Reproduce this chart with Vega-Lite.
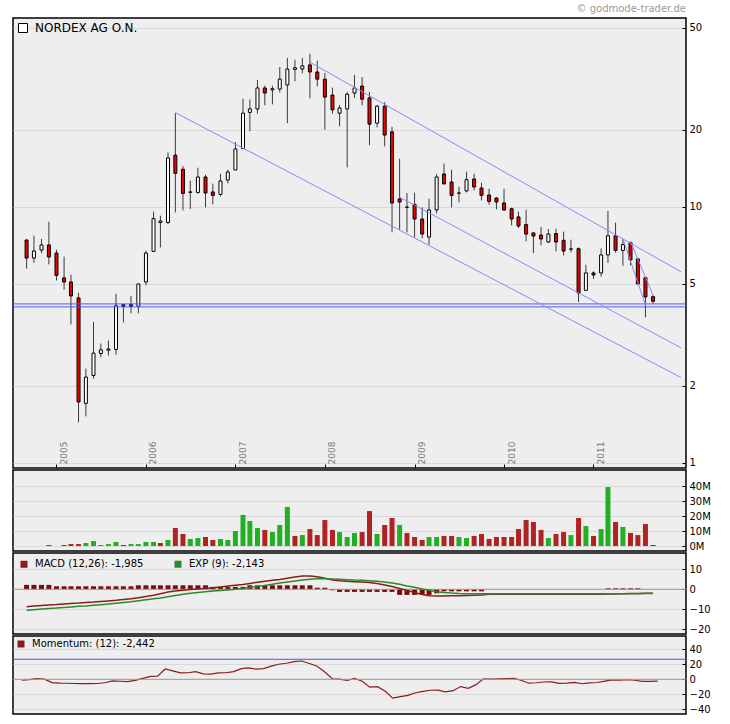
{
  "$schema": "https://vega.github.io/schema/vega-lite/v6.json",
  "padding": {"left": 11, "top": 3, "right": 0, "bottom": 0},
  "background": "white",
  "spacing": 2,
  "bounds": "flush",
  "config": {
    "font": "DejaVu Sans",
    "view": {"stroke": "black", "strokeWidth": 1.5, "fill": "#eeeeee"},
    "axis": {"labelFont": "DejaVu Sans", "title": null, "labelOverlap": false},
    "legend": {"labelFont": "DejaVu Sans"},
    "title": {"font": "DejaVu Sans"}
  },
  "resolve": {"scale": {"color": "independent", "stroke": "independent"}, "legend": {"color": "independent", "stroke": "independent"}},
  "datasets": {
    "candles": [
      {"d":"2004-09-01","o":7.41,"h":7.45,"l":5.73,"c":6.30,"m":-8.7,"s":-10.5,"hi":2.2,"mo":-1.3},
      {"d":"2004-10-01","o":6.30,"h":7.70,"l":6.03,"c":6.71,"m":-8.4,"s":-10.2,"hi":2.2,"mo":-0.5},
      {"d":"2004-11-01","o":6.77,"h":7.48,"l":6.57,"c":7.09,"m":-8.1,"s":-9.9,"hi":2.2,"mo":0.9},
      {"d":"2004-12-01","o":7.09,"h":8.74,"l":5.95,"c":6.36,"v":0.67,"vd":"down","m":-7.8,"s":-9.6,"hi":2.2,"mo":0.2},
      {"d":"2005-01-01","o":6.59,"h":6.79,"l":5.15,"c":5.39,"m":-7.6,"s":-9.4,"hi":1.5,"mo":-4.4},
      {"d":"2005-02-01","o":5.27,"h":6.38,"l":4.74,"c":5.08,"v":0.67,"vd":"down","m":-7.3,"s":-9.1,"hi":1.5,"mo":-5.0},
      {"d":"2005-03-01","o":5.08,"h":5.42,"l":3.47,"c":4.48,"v":1.3,"vd":"down","m":-7.1,"s":-8.8,"hi":1.5,"mo":-5.3},
      {"d":"2005-04-01","o":4.40,"h":4.61,"l":1.437,"c":1.726,"v":1.3,"vd":"down","m":-6.9,"s":-8.5,"hi":1.5,"mo":-5.6},
      {"d":"2005-05-01","o":1.704,"h":2.33,"l":1.516,"c":2.16,"v":2.0,"vd":"up","m":-6.6,"s":-8.3,"hi":1.5,"mo":-5.8},
      {"d":"2005-06-01","o":2.19,"h":3.55,"l":2.13,"c":2.68,"v":3.3,"vd":"up","m":-6.4,"s":-8.0,"hi":1.5,"mo":-5.8},
      {"d":"2005-07-01","o":2.67,"h":2.92,"l":2.58,"c":2.76,"v":0.67,"vd":"up","m":-6.1,"s":-7.7,"hi":1.5,"mo":-5.6},
      {"d":"2005-08-01","o":2.75,"h":3.00,"l":2.62,"c":2.78,"v":1.3,"vd":"up","m":-5.8,"s":-7.4,"hi":1.5,"mo":-4.6},
      {"d":"2005-09-01","o":2.77,"h":4.57,"l":2.64,"c":4.10,"v":2.7,"vd":"up","m":-5.5,"s":-7.0,"hi":1.5,"mo":-2.2},
      {"d":"2005-10-01","o":4.14,"h":4.16,"l":3.53,"c":4.08,"v":0.67,"vd":"down","m":-5.1,"s":-6.6,"hi":1.5,"mo":-2.6},
      {"d":"2005-11-01","o":4.14,"h":4.48,"l":3.83,"c":4.08,"v":1.3,"vd":"up","m":-4.7,"s":-6.2,"hi":1.5,"mo":-3.0},
      {"d":"2005-12-01","o":4.08,"h":5.00,"l":3.83,"c":4.99,"v":1.3,"vd":"up","m":-4.2,"s":-5.7,"hi":2.0,"mo":-1.4},
      {"d":"2006-01-01","o":5.08,"h":6.73,"l":4.93,"c":6.59,"v":2.7,"vd":"up","m":-3.6,"s":-5.2,"hi":2.0,"mo":1.2},
      {"d":"2006-02-01","o":6.69,"h":9.56,"l":6.69,"c":8.98,"v":2.7,"vd":"up","m":-3.0,"s":-4.7,"hi":2.0,"mo":3.9},
      {"d":"2006-03-01","o":8.68,"h":9.22,"l":6.93,"c":8.79,"v":2.0,"vd":"down","m":-2.2,"s":-4.3,"hi":2.0,"mo":4.3},
      {"d":"2006-04-01","o":8.68,"h":16.3,"l":8.56,"c":15.5,"v":4.0,"vd":"up","m":-1.4,"s":-3.7,"hi":2.0,"mo":13.8},
      {"d":"2006-05-01","o":15.9,"h":23.2,"l":9.50,"c":13.5,"v":12.0,"vd":"down","m":-0.9,"s":-3.1,"hi":2.0,"mo":11.3},
      {"d":"2006-06-01","o":14.0,"h":14.4,"l":9.67,"c":11.27,"v":8.0,"vd":"down","m":-0.5,"s":-2.5,"hi":2.0,"mo":8.6},
      {"d":"2006-07-01","o":11.38,"h":12.64,"l":9.80,"c":11.42,"v":4.7,"vd":"up","m":-0.1,"s":-2.0,"hi":2.0,"mo":8.7},
      {"d":"2006-08-01","o":11.37,"h":14.2,"l":11.24,"c":13.06,"v":5.3,"vd":"up","m":0.2,"s":-1.6,"hi":2.0,"mo":10.3},
      {"d":"2006-09-01","o":13.06,"h":13.34,"l":9.94,"c":11.31,"v":6.0,"vd":"down","m":0.5,"s":-1.2,"hi":2.0,"mo":7.2},
      {"d":"2006-10-01","o":11.42,"h":12.30,"l":10.21,"c":11.07,"v":4.0,"vd":"down","m":0.8,"s":-0.9,"hi":1.2,"mo":7.0},
      {"d":"2006-11-01","o":11.17,"h":13.45,"l":10.97,"c":12.60,"v":4.7,"vd":"up","m":1.2,"s":-0.6,"hi":1.2,"mo":8.5},
      {"d":"2006-12-01","o":12.71,"h":13.95,"l":12.33,"c":13.66,"v":4.0,"vd":"up","m":1.6,"s":-0.3,"hi":1.2,"mo":8.7},
      {"d":"2007-01-01","o":13.91,"h":17.89,"l":13.91,"c":16.81,"v":10.0,"vd":"up","m":2.0,"s":0.0,"hi":1.2,"mo":10.2},
      {"d":"2007-02-01","o":16.86,"h":26.4,"l":16.86,"c":23.2,"v":20.7,"vd":"up","m":2.4,"s":0.4,"hi":1.2,"mo":14.2},
      {"d":"2007-03-01","o":23.36,"h":26.2,"l":19.7,"c":24.1,"v":16.7,"vd":"up","m":2.9,"s":0.9,"hi":2.0,"mo":15.3},
      {"d":"2007-04-01","o":24.08,"h":31.3,"l":23.1,"c":29.1,"v":12.0,"vd":"up","m":3.5,"s":1.4,"hi":2.0,"mo":13.6},
      {"d":"2007-05-01","o":29.1,"h":29.7,"l":24.9,"c":27.8,"v":10.7,"vd":"down","m":4.0,"s":1.9,"hi":2.0,"mo":14.3},
      {"d":"2007-06-01","o":28.6,"h":29.7,"l":25.1,"c":28.9,"v":9.3,"vd":"up","m":4.5,"s":2.5,"hi":2.0,"mo":17.6},
      {"d":"2007-07-01","o":28.8,"h":35.1,"l":27.96,"c":31.5,"v":14.0,"vd":"up","m":4.9,"s":3.1,"hi":2.0,"mo":20.1},
      {"d":"2007-08-01","o":29.9,"h":38.1,"l":21.2,"c":34.5,"v":26.0,"vd":"up","m":5.5,"s":3.6,"hi":2.0,"mo":21.4},
      {"d":"2007-09-01","o":34.4,"h":37.5,"l":30.9,"c":34.9,"v":6.7,"vd":"down","m":6.1,"s":4.1,"hi":2.0,"mo":23.6},
      {"d":"2007-10-01","o":34.5,"h":38.1,"l":33.2,"c":35.5,"v":7.3,"vd":"up","m":6.6,"s":4.6,"hi":2.0,"mo":24.4},
      {"d":"2007-11-01","o":35.8,"h":39.6,"l":26.5,"c":33.6,"v":11.3,"vd":"down","m":6.7,"s":5.0,"hi":2.0,"mo":21.0},
      {"d":"2007-12-01","o":33.6,"h":37.2,"l":29.5,"c":31.5,"v":7.3,"vd":"down","m":6.3,"s":5.3,"hi":0.8,"mo":17.8},
      {"d":"2008-01-01","o":31.5,"h":33.3,"l":20.0,"c":26.8,"v":17.3,"vd":"down","m":5.5,"s":5.3,"hi":0.8,"mo":10.0},
      {"d":"2008-02-01","o":27.3,"h":29.2,"l":23.1,"c":23.9,"v":10.7,"vd":"down","m":4.7,"s":5.2,"hi":-0.5,"mo":0.7},
      {"d":"2008-03-01","o":23.2,"h":24.97,"l":20.6,"c":24.3,"v":9.3,"vd":"up","m":4.3,"s":5.0,"hi":-1.3,"mo":0.2},
      {"d":"2008-04-01","o":24.08,"h":28.05,"l":14.24,"c":27.5,"v":6.0,"vd":"up","m":4.0,"s":4.8,"hi":-1.3,"mo":-1.6},
      {"d":"2008-05-01","o":27.8,"h":32.7,"l":26.6,"c":29.1,"v":8.7,"vd":"up","m":3.8,"s":4.6,"hi":-1.3,"mo":1.3},
      {"d":"2008-06-01","o":29.6,"h":32.1,"l":24.9,"c":26.3,"v":9.3,"vd":"down","m":3.6,"s":4.5,"hi":-1.3,"mo":-2.6},
      {"d":"2008-07-01","o":26.6,"h":28.05,"l":17.4,"c":21.0,"v":23.3,"vd":"down","m":3.4,"s":4.3,"hi":-1.3,"mo":-10.5},
      {"d":"2008-08-01","o":21.2,"h":24.97,"l":20.4,"c":24.7,"v":8.0,"vd":"up","m":2.9,"s":4.0,"hi":-1.3,"mo":-9.8},
      {"d":"2008-09-01","o":24.7,"h":25.6,"l":17.2,"c":19.05,"v":14.0,"vd":"down","m":2.2,"s":3.6,"hi":-1.3,"mo":-15.9},
      {"d":"2008-10-01","o":19.6,"h":20.5,"l":7.94,"c":10.34,"v":18.7,"vd":"down","m":1.4,"s":3.1,"hi":-1.3,"mo":-25.2},
      {"d":"2008-11-01","o":10.72,"h":15.4,"l":8.13,"c":10.43,"v":14.0,"vd":"up","m":0.4,"s":2.5,"hi":-2.8,"mo":-23.2},
      {"d":"2008-12-01","o":9.95,"h":11.31,"l":7.94,"c":9.97,"v":8.7,"vd":"down","m":-0.6,"s":1.7,"hi":-2.8,"mo":-21.5},
      {"d":"2009-01-01","o":10.21,"h":11.34,"l":7.59,"c":8.95,"v":6.0,"vd":"down","m":-1.6,"s":1.0,"hi":-2.8,"mo":-17.9},
      {"d":"2009-02-01","o":8.95,"h":9.94,"l":7.52,"c":7.82,"v":4.0,"vd":"down","m":-2.6,"s":0.2,"hi":-2.8,"mo":-16.1},
      {"d":"2009-03-01","o":7.61,"h":10.75,"l":7.11,"c":9.71,"v":6.0,"vd":"up","m":-3.2,"s":-0.5,"hi":-2.8,"mo":-14.6},
      {"d":"2009-04-01","o":9.71,"h":13.45,"l":9.41,"c":13.06,"v":6.0,"vd":"up","m":-3.3,"s":-1.2,"hi":-2.0,"mo":-14.4},
      {"d":"2009-05-01","o":13.42,"h":14.72,"l":12.27,"c":12.27,"v":6.7,"vd":"down","m":-3.3,"s":-1.6,"hi":-1.0,"mo":-16.8},
      {"d":"2009-06-01","o":12.49,"h":13.95,"l":9.94,"c":11.07,"v":6.7,"vd":"down","m":-3.2,"s":-1.9,"hi":-1.0,"mo":-15.2},
      {"d":"2009-07-01","o":11.29,"h":11.97,"l":10.39,"c":11.31,"v":6.0,"vd":"up","m":-3.2,"s":-2.1,"hi":-1.0,"mo":-9.7},
      {"d":"2009-08-01","o":11.52,"h":13.70,"l":11.37,"c":12.75,"v":5.3,"vd":"up","m":-3.1,"s":-2.2,"hi":-1.0,"mo":-12.0},
      {"d":"2009-09-01","o":12.83,"h":13.45,"l":11.58,"c":11.94,"v":6.7,"vd":"down","m":-3.0,"s":-2.2,"hi":-1.0,"mo":-7.1},
      {"d":"2009-10-01","o":11.83,"h":12.41,"l":10.58,"c":11.07,"v":8.0,"vd":"down","m":-2.8,"s":-2.2,"hi":-1.0,"mo":0.7},
      {"d":"2009-11-01","o":11.11,"h":11.76,"l":10.18,"c":10.49,"v":4.7,"vd":"down","m":-2.5,"s":-2.2,"hi":0,"mo":0.1},
      {"d":"2009-12-01","o":10.81,"h":10.91,"l":9.76,"c":10.43,"v":6.0,"vd":"down","m":-2.5,"s":-2.2,"hi":0,"mo":0.5},
      {"d":"2010-01-01","o":10.34,"h":11.76,"l":9.62,"c":9.71,"v":6.0,"vd":"down","m":-2.5,"s":-2.2,"hi":0,"mo":0.8},
      {"d":"2010-02-01","o":9.82,"h":9.91,"l":8.45,"c":8.95,"v":6.0,"vd":"down","m":-2.5,"s":-2.2,"hi":0,"mo":1.1},
      {"d":"2010-03-01","o":9.12,"h":9.56,"l":8.26,"c":8.41,"v":11.3,"vd":"down","m":-2.5,"s":-2.2,"hi":0,"mo":-1.3},
      {"d":"2010-04-01","o":8.51,"h":9.73,"l":7.32,"c":7.82,"v":17.3,"vd":"down","m":-2.5,"s":-2.2,"hi":0,"mo":-5.2},
      {"d":"2010-05-01","o":7.90,"h":7.92,"l":6.59,"c":7.68,"v":16.0,"vd":"down","m":-2.5,"s":-2.2,"hi":0,"mo":-4.6},
      {"d":"2010-06-01","o":7.75,"h":8.33,"l":7.06,"c":7.48,"v":10.7,"vd":"down","m":-2.5,"s":-2.2,"hi":0,"mo":-3.6},
      {"d":"2010-07-01","o":7.28,"h":8.18,"l":7.21,"c":7.82,"v":5.3,"vd":"up","m":-2.5,"s":-2.2,"hi":0,"mo":-3.5},
      {"d":"2010-08-01","o":7.85,"h":8.20,"l":6.69,"c":7.28,"v":8.0,"vd":"down","m":-2.5,"s":-2.2,"hi":0,"mo":-5.5},
      {"d":"2010-09-01","o":7.39,"h":7.99,"l":6.45,"c":6.71,"v":9.3,"vd":"down","m":-2.5,"s":-2.2,"hi":0,"mo":-5.2},
      {"d":"2010-10-01","o":6.82,"h":7.43,"l":6.63,"c":6.84,"v":7.3,"vd":"up","m":-2.5,"s":-2.2,"hi":0,"mo":-4.2},
      {"d":"2010-11-01","o":6.85,"h":6.93,"l":4.24,"c":4.60,"v":18.7,"vd":"down","m":-2.5,"s":-2.2,"hi":0,"mo":-5.9},
      {"d":"2010-12-01","o":4.71,"h":5.93,"l":4.71,"c":5.51,"v":13.3,"vd":"up","m":-2.5,"s":-2.2,"hi":0,"mo":-4.9},
      {"d":"2011-01-01","o":5.51,"h":5.59,"l":5.22,"c":5.41,"v":6.7,"vd":"down","m":-2.5,"s":-2.2,"hi":0,"mo":-4.3},
      {"d":"2011-02-01","o":5.51,"h":6.87,"l":5.33,"c":6.48,"v":11.3,"vd":"up","m":-2.45,"s":-2.2,"hi":0,"mo":-2.5},
      {"d":"2011-03-01","o":6.48,"h":9.62,"l":6.03,"c":7.70,"v":39.3,"vd":"up","m":-2.4,"s":-2.2,"hi":0.5,"mo":-0.7},
      {"d":"2011-04-01","o":7.70,"h":8.66,"l":6.61,"c":6.75,"v":16.0,"vd":"down","m":-2.3,"s":-2.2,"hi":0.5,"mo":-1.1},
      {"d":"2011-05-01","o":6.75,"h":7.48,"l":5.88,"c":7.11,"v":12.7,"vd":"up","m":-2.2,"s":-2.2,"hi":0.5,"mo":-0.6},
      {"d":"2011-06-01","o":7.25,"h":7.30,"l":5.90,"c":6.19,"v":8.7,"vd":"down","m":-2.1,"s":-2.2,"hi":0.5,"mo":-1.3},
      {"d":"2011-07-01","o":6.25,"h":6.30,"l":4.99,"c":4.99,"v":7.3,"vd":"down","m":-2.05,"s":-2.2,"hi":0.5,"mo":-2.8},
      {"d":"2011-08-01","o":5.28,"h":5.30,"l":3.70,"c":4.44,"v":14.7,"vd":"down","m":-2.0,"s":-2.16,"hi":0,"mo":-2.8},
      {"d":"2011-09-01","o":4.45,"h":4.51,"l":4.18,"c":4.27,"v":0.67,"vd":"down","m":-1.985,"s":-2.143,"hi":0,"mo":-2.442}
    ],
    "hlines": [{"v": 4.17}, {"v": 4.06}],
    "zero": [{"v": 0}],
    "momline": [{"v": 26.7}],
    "trends": [
      {"id":"A","d":"2006-05-01","p":23.3},{"id":"A","d":"2011-12-24","p":2.15},
      {"id":"B","d":"2007-11-01","p":36.7},{"id":"B","d":"2011-12-24","p":5.57},
      {"id":"C","d":"2008-11-01","p":10.9},{"id":"C","d":"2011-12-24","p":2.81},
      {"id":"D","d":"2011-05-01","p":7.48},{"id":"D","d":"2011-08-01","p":4.14},
      {"id":"E","d":"2011-06-01","p":7.30},{"id":"E","d":"2011-09-01","p":4.51}
    ]
  },
  "vconcat": [
    {
      "width": 673,
      "height": 450,
      "title": {"text": "© godmode-trader.de", "anchor": "end", "frame": "group", "fontSize": 10, "fontWeight": "normal", "color": "#9a9a9a", "offset": 4},
      "layer": [
        {
          "data": {"name": "candles"},
          "mark": {"type": "rule", "color": "#3a3a3a", "strokeWidth": 1},
          "encoding": {
            "x": {"field": "d", "type": "temporal",
              "scale": {"type": "utc", "domain": [{"year": 2004, "month": 7, "date": 28, "utc": true}, {"year": 2011, "month": 12, "date": 24, "utc": true}]},
              "axis": {"orient": "bottom", "values": [{"year": 2005, "utc": true}, {"year": 2006, "utc": true}, {"year": 2007, "utc": true}, {"year": 2008, "utc": true}, {"year": 2009, "utc": true}, {"year": 2010, "utc": true}, {"year": 2011, "utc": true}],
                "format": "%Y", "labelAngle": 270, "labelAlign": "left", "labelBaseline": "top", "labelOffset": 3, "tickSize": -4, "labelPadding": 0, "labelFontSize": 9, "labelColor": "#777777", "domain": false, "grid": false, "tickColor": "black", "labelFlush": false}},
            "y": {"field": "l", "type": "quantitative",
              "scale": {"type": "log", "domain": [0.953, 54.6], "nice": false},
              "axis": {"orient": "right", "values": [1, 2, 5, 10, 20, 50], "labelExpr": "'' + datum.value", "tickSize": -4, "labelPadding": 7, "labelFontSize": 10, "labelColor": "black", "domain": false, "grid": true, "gridColor": "#d9d9d9", "tickColor": "black"}},
            "y2": {"field": "h"}
          }
        },
        {
          "data": {"name": "candles"},
          "mark": {"type": "bar", "size": 3, "strokeWidth": 1},
          "encoding": {
            "x": {"field": "d", "type": "temporal"},
            "y": {"field": "o", "type": "quantitative"},
            "y2": {"field": "c"},
            "fill": {"condition": {"test": "datum.c < datum.o", "value": "#ee0000"}, "value": "white"},
            "stroke": {"datum": "NORDEX AG O.N.", "type": "nominal", "scale": {"range": ["black"]},
              "legend": {"orient": "top-left", "offset": 4, "title": null, "symbolType": "square", "symbolSize": 81, "symbolFillColor": "white", "symbolStrokeWidth": 1, "labelFontSize": 12, "labelOffset": 6, "padding": 0}}
          }
        },
        {
          "data": {"name": "hlines"},
          "mark": {"type": "rule", "color": "#5555ff", "strokeWidth": 1},
          "encoding": {"y": {"field": "v", "type": "quantitative"}}
        },
        {
          "data": {"name": "trends"},
          "mark": {"type": "line", "color": "#8888ff", "strokeWidth": 1, "clip": true},
          "encoding": {
            "x": {"field": "d", "type": "temporal"},
            "y": {"field": "p", "type": "quantitative"},
            "detail": {"field": "id"}
          }
        }
      ]
    },
    {
      "width": 673,
      "height": 81,
      "data": {"name": "candles"},
      "mark": {"type": "bar", "size": 5},
      "encoding": {
        "x": {"field": "d", "type": "temporal",
          "scale": {"type": "utc", "domain": [{"year": 2004, "month": 7, "date": 28, "utc": true}, {"year": 2011, "month": 12, "date": 24, "utc": true}]},
          "axis": null},
        "y": {"field": "v", "type": "quantitative",
          "scale": {"domain": [-3.33, 50.67], "nice": false, "zero": false},
          "axis": {"orient": "right", "values": [0, 10, 20, 30, 40], "labelExpr": "datum.value + 'M'", "tickSize": -4, "labelPadding": 7, "labelFontSize": 10, "labelColor": "black", "domain": false, "grid": true, "gridColor": "#d9d9d9", "tickColor": "black"}},
        "y2": {"datum": 0},
        "color": {"field": "vd", "type": "nominal", "scale": {"domain": ["up", "down"], "range": ["#22b022", "#b22222"]}, "legend": null}
      }
    },
    {
      "width": 673,
      "height": 81,
      "layer": [
        {
          "data": {"name": "candles"},
          "mark": {"type": "bar", "size": 5, "color": "#7a0a0a"},
          "encoding": {
            "x": {"field": "d", "type": "temporal",
              "scale": {"type": "utc", "domain": [{"year": 2004, "month": 7, "date": 28, "utc": true}, {"year": 2011, "month": 12, "date": 24, "utc": true}]},
              "axis": null},
            "y": {"field": "hi", "type": "quantitative",
              "scale": {"domain": [-22.35, 18.15], "nice": false, "zero": false},
              "axis": {"orient": "right", "tickCount": 4, "labelOverlap": false, "labelBound": false, "labelFlush": false, "format": "d", "tickSize": -4, "labelPadding": 7, "labelFontSize": 10, "labelColor": "black", "domain": false, "grid": true, "gridColor": "#d9d9d9", "tickColor": "black"}},
            "y2": {"datum": 0}
          }
        },
        {
          "data": {"name": "zero"},
          "mark": {"type": "rule", "color": "#9a9a9a", "strokeWidth": 1},
          "encoding": {"y": {"field": "v", "type": "quantitative"}}
        },
        {
          "data": {"name": "candles"},
          "mark": {"type": "line", "strokeWidth": 1.5},
          "encoding": {
            "x": {"field": "d", "type": "temporal"},
            "y": {"field": "m", "type": "quantitative"},
            "color": {"datum": "MACD (12,26): -1,985", "type": "nominal",
              "scale": {"domain": ["MACD (12,26): -1,985", "EXP (9): -2,143"], "range": ["#8b1c1c", "#2a8a2a"]},
              "legend": {"orient": "top-left", "direction": "horizontal", "offset": 6, "title": null, "symbolType": "square", "symbolSize": 9, "symbolStrokeWidth": 4, "labelFontSize": 10, "labelOffset": 6, "columnPadding": 24, "padding": 0}}
          }
        },
        {
          "data": {"name": "candles"},
          "mark": {"type": "line", "strokeWidth": 1.5},
          "encoding": {
            "x": {"field": "d", "type": "temporal"},
            "y": {"field": "s", "type": "quantitative"},
            "color": {"datum": "EXP (9): -2,143", "type": "nominal"}
          }
        }
      ]
    },
    {
      "width": 673,
      "height": 78,
      "layer": [
        {
          "data": {"name": "candles"},
          "mark": {"type": "line", "strokeWidth": 1.2},
          "encoding": {
            "x": {"field": "d", "type": "temporal",
              "scale": {"type": "utc", "domain": [{"year": 2004, "month": 7, "date": 28, "utc": true}, {"year": 2011, "month": 12, "date": 24, "utc": true}]},
              "axis": null},
            "y": {"field": "mo", "type": "quantitative",
              "scale": {"domain": [-46.27, 57.73], "nice": false, "zero": false},
              "axis": {"orient": "right", "tickCount": 5, "labelOverlap": false, "labelBound": false, "labelFlush": false, "format": "d", "tickSize": -4, "labelPadding": 7, "labelFontSize": 10, "labelColor": "black", "domain": false, "grid": true, "gridColor": "#d9d9d9", "tickColor": "black"}},
            "color": {"datum": "Momentum: (12): -2,442", "type": "nominal", "scale": {"range": ["#8b1c1c"]},
              "legend": {"orient": "top-left", "offset": 3, "title": null, "symbolType": "square", "symbolSize": 9, "symbolStrokeWidth": 4, "labelFontSize": 10, "labelOffset": 6, "padding": 0}}
          }
        },
        {
          "data": {"name": "zero"},
          "mark": {"type": "rule", "color": "#9a9a9a", "strokeWidth": 1},
          "encoding": {"y": {"field": "v", "type": "quantitative"}}
        },
        {
          "data": {"name": "momline"},
          "mark": {"type": "rule", "color": "#5050ff", "strokeWidth": 1},
          "encoding": {"y": {"field": "v", "type": "quantitative"}}
        }
      ]
    }
  ]
}
